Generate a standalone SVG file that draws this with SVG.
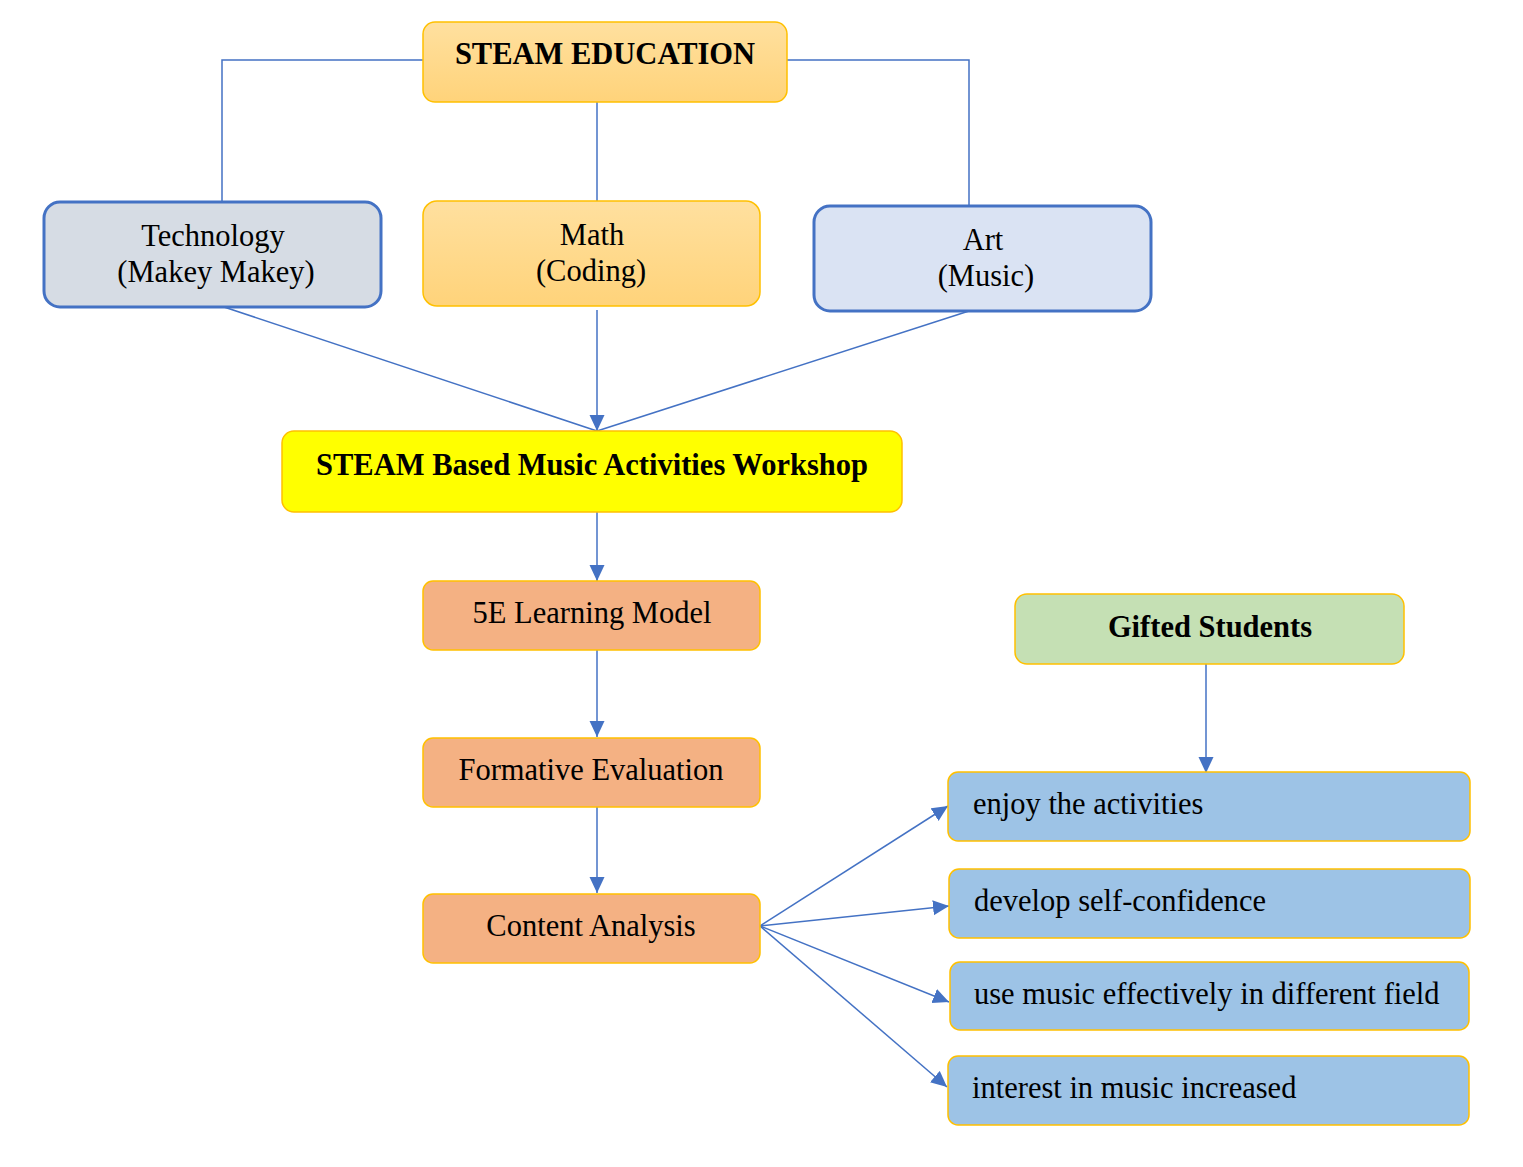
<svg xmlns="http://www.w3.org/2000/svg" width="1523" height="1167" viewBox="0 0 1523 1167">
<style>
text{font-family:"Liberation Serif","Times New Roman",serif;fill:#000;font-size:30.5px}
.c{text-anchor:middle}
.b{font-weight:bold}
.y{stroke:#ffc000;stroke-width:1.5}
.bl{stroke:#4472c4;stroke-width:3}
.ln{fill:none;stroke:#4472c4;stroke-width:1.5}
</style>
<defs>
<linearGradient id="g" x1="0" y1="0" x2="0" y2="1"><stop offset="0" stop-color="#ffe09f"/><stop offset="1" stop-color="#ffd37a"/></linearGradient>
<marker id="a" markerUnits="userSpaceOnUse" markerWidth="17" markerHeight="16" refX="16" refY="8" orient="auto"><path d="M0,0.5 L16,8 L0,15.5 Z" fill="#4472c4"/></marker>
</defs>
<g id="connectors">
<path class="ln" d="M423,60 H222 V202"/>
<path class="ln" d="M787,60 H969 V206"/>
<path class="ln" d="M597,102 V201"/>
<path class="ln" d="M224,307 L597,431"/>
<path class="ln" d="M969,311 L597,431"/>
<path class="ln" d="M597,310 V431" marker-end="url(#a)"/>
<path class="ln" d="M597,512 V581" marker-end="url(#a)"/>
<path class="ln" d="M597,650 V737" marker-end="url(#a)"/>
<path class="ln" d="M597,807 V893" marker-end="url(#a)"/>
<path class="ln" d="M1206,664 V773" marker-end="url(#a)"/>
<path class="ln" d="M760,926 L948,806" marker-end="url(#a)"/>
<path class="ln" d="M760,926 L949,906" marker-end="url(#a)"/>
<path class="ln" d="M760,926 L949,1002" marker-end="url(#a)"/>
<path class="ln" d="M760,926 L947,1087" marker-end="url(#a)"/>
</g>
<g id="steam-education"><rect class="y" x="423" y="22" width="364" height="80" rx="12" fill="url(#g)"/><text class="c b" x="605" y="64">STEAM EDUCATION</text></g>
<g id="technology"><rect class="bl" x="44" y="202" width="337" height="105" rx="16" fill="#d6dce4"/><text class="c" x="213" y="246">Technology</text><text class="c" x="216" y="282">(Makey Makey)</text></g>
<g id="math"><rect class="y" x="423" y="201" width="337" height="105" rx="14" fill="url(#g)"/><text class="c" x="592" y="245">Math</text><text class="c" x="591" y="281">(Coding)</text></g>
<g id="art"><rect class="bl" x="814" y="206" width="337" height="105" rx="16" fill="#dae3f3"/><text class="c" x="983" y="250">Art</text><text class="c" x="986" y="286">(Music)</text></g>
<g id="workshop"><rect class="y" x="282" y="431" width="620" height="81" rx="12" fill="#ffff00"/><text class="c b" x="592" y="475">STEAM Based Music Activities Workshop</text></g>
<g id="learning-model"><rect class="y" x="423" y="581" width="337" height="69" rx="10" fill="#f4b183"/><text class="c" x="592" y="623">5E Learning Model</text></g>
<g id="formative-evaluation"><rect class="y" x="423" y="738" width="337" height="69" rx="10" fill="#f4b183"/><text class="c" x="591" y="780">Formative Evaluation</text></g>
<g id="content-analysis"><rect class="y" x="423" y="894" width="337" height="69" rx="10" fill="#f4b183"/><text class="c" x="591" y="936">Content Analysis</text></g>
<g id="gifted-students"><rect class="y" x="1015" y="594" width="389" height="70" rx="12" fill="#c5e0b4"/><text class="c b" x="1210" y="637">Gifted Students</text></g>
<g id="enjoy"><rect class="y" x="948" y="772" width="522" height="69" rx="10" fill="#9dc3e6"/><text x="973" y="814">enjoy the activities</text></g>
<g id="self-confidence"><rect class="y" x="949" y="869" width="521" height="69" rx="10" fill="#9dc3e6"/><text x="974" y="911">develop self-confidence</text></g>
<g id="use-music"><rect class="y" x="950" y="962" width="519" height="68" rx="10" fill="#9dc3e6"/><text x="974" y="1004">use music effectively in different field</text></g>
<g id="interest"><rect class="y" x="948" y="1056" width="521" height="69" rx="10" fill="#9dc3e6"/><text x="972" y="1098">interest in music increased</text></g>
</svg>
